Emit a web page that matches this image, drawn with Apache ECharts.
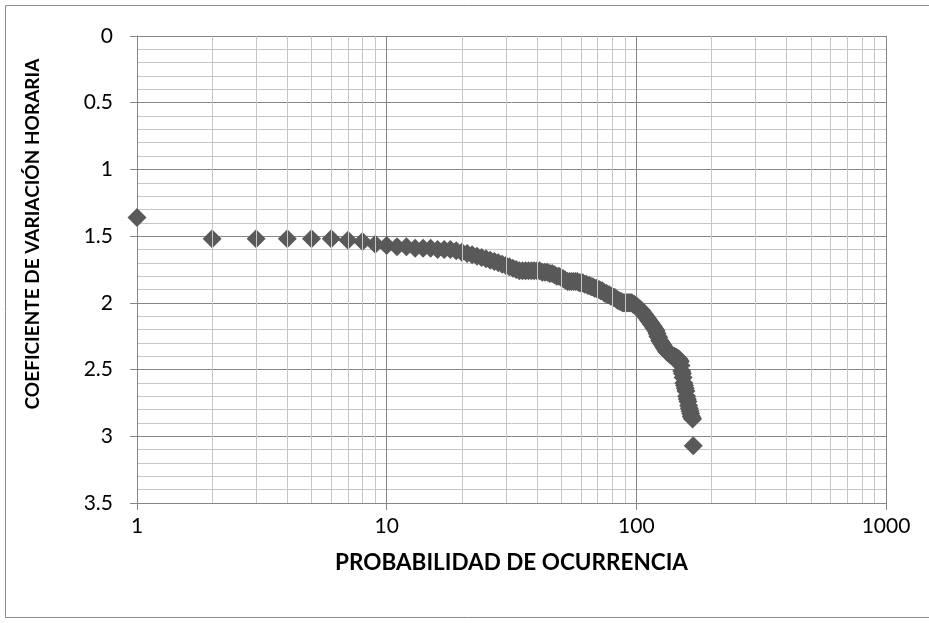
<!DOCTYPE html>
<html>
<head>
<meta charset="utf-8">
<script src="https://cdn.jsdelivr.net/npm/echarts@6/dist/echarts.min.js"></script>
<style>
  html, body { margin: 0; padding: 0; background: #fff; }
  #chart { width: 929px; height: 623px; }
</style>
</head>
<body>
<div id="chart"></div>
<script>
// rank (probabilidad de ocurrencia)
var ranks = [
  1, 2, 3, 4, 5, 6, 7, 8, 9, 10, 11, 12, 13, 14, 15, 16, 17, 18, 19, 20,
  21, 22, 23, 24, 25, 26, 27, 28, 29, 30, 31, 32, 33, 34, 35, 36, 37, 38, 39, 40,
  41, 42, 43, 44, 45, 46, 47, 48, 49, 50, 51, 52, 53, 54, 55, 56, 57, 58, 59, 60,
  61, 62, 63, 64, 65, 66, 67, 68, 69, 70, 71, 72, 73, 74, 75, 76, 77, 78, 79, 80,
  81, 82, 83, 84, 85, 86, 87, 88, 89, 90, 91, 92, 93, 94, 95, 96, 97, 98, 99, 100,
  101, 102, 103, 104, 105, 106, 107, 108, 109, 110, 111, 112, 113, 114, 115, 116, 117, 118, 119, 120,
  121, 122, 123, 124, 125, 126, 127, 128, 129, 130, 131, 132, 133, 134, 135, 136, 137, 138, 139, 140,
  141, 142, 143, 144, 145, 146, 147, 148, 149, 150, 151, 152, 153, 154, 155, 156, 157, 158, 159, 160,
  161, 162, 163, 164, 165, 166, 167, 168, 169
]
// coeficiente de variación horaria
var coef = [
  1.36, 1.52, 1.52, 1.52, 1.52, 1.52, 1.53, 1.54, 1.56, 1.57,
  1.58, 1.58, 1.59, 1.59, 1.59, 1.60, 1.60, 1.60, 1.61, 1.62,
  1.63, 1.64, 1.65, 1.66, 1.67, 1.68, 1.69, 1.70, 1.71, 1.72,
  1.73, 1.74, 1.75, 1.76, 1.76, 1.76, 1.76, 1.76, 1.76, 1.76,
  1.76, 1.77, 1.77, 1.77, 1.78, 1.78, 1.79, 1.80, 1.80, 1.81,
  1.82, 1.83, 1.84, 1.84, 1.84, 1.84, 1.84, 1.84, 1.85, 1.85,
  1.85, 1.86, 1.86, 1.87, 1.87, 1.88, 1.88, 1.89, 1.89, 1.90,
  1.90, 1.91, 1.91, 1.92, 1.93, 1.93, 1.94, 1.94, 1.95, 1.95,
  1.96, 1.96, 1.97, 1.98, 1.98, 1.99, 1.99, 2.00, 2.00, 2.00,
  2.00, 2.00, 2.00, 2.00, 2.00, 2.00, 2.01, 2.01, 2.02, 2.03,
  2.03, 2.04, 2.05, 2.05, 2.06, 2.07, 2.08, 2.09, 2.10, 2.11,
  2.12, 2.13, 2.14, 2.15, 2.16, 2.17, 2.18, 2.19, 2.20, 2.21,
  2.23, 2.25, 2.26, 2.28, 2.29, 2.30, 2.31, 2.32, 2.33, 2.34,
  2.35, 2.36, 2.37, 2.37, 2.38, 2.38, 2.39, 2.39, 2.40, 2.40,
  2.40, 2.40, 2.41, 2.41, 2.41, 2.42, 2.42, 2.42, 2.43, 2.44,
  2.47, 2.51, 2.53, 2.56, 2.60, 2.62, 2.64, 2.66, 2.70, 2.72,
  2.74, 2.77, 2.79, 2.81, 2.83, 2.85, 2.86, 2.87, 3.07
]
// minor vertical grid lines of the log axis
var xMinor = [2, 3, 4, 5, 6, 7, 8, 9, 20, 30, 40, 50, 60, 70, 80, 90, 200, 300, 400, 500, 600, 700, 800, 900]

var chart = echarts.init(document.getElementById('chart'))
var font = 'Lato, "Open Sans", sans-serif'

chart.setOption({
  animation: false,
  backgroundColor: '#fff',
  graphic: [
    {
      type: 'rect',
      shape: { x: 5.5, y: 5.5, width: 940, height: 612 },
      style: { fill: 'none', stroke: '#8c8c8c', lineWidth: 1 },
      silent: true
    },
    {
      type: 'text',
      x: 33,
      y: 234,
      rotation: Math.PI / 2,
      style: {
        text: 'COEFICIENTE DE VARIACIÓN HORARIA',
        font: 'bold 19px ' + font,
        fill: '#000',
        align: 'center',
        verticalAlign: 'middle'
      }
    }
  ],
  grid: { left: 137, right: 43, top: 36, bottom: 120 },
  xAxis: {
    type: 'log',
    logBase: 10,
    min: 1,
    max: 1000,
    name: 'PROBABILIDAD DE OCURRENCIA',
    nameLocation: 'middle',
    nameGap: 48,
    nameTextStyle: { fontFamily: font, fontWeight: 'bold', fontSize: 22.5, color: '#000' },
    axisLine: { onZero: false, lineStyle: { color: '#868686' } },
    axisTick: { show: true, length: 7, lineStyle: { color: '#868686' } },
    axisLabel: {
      fontFamily: font, fontSize: 21, color: '#000', margin: 13,
      formatter: function (v) { return String(v) }
    },
    splitLine: { show: true, lineStyle: { color: '#868686' } },
    minorTick: { show: false },
    minorSplitLine: { show: false }
  },
  yAxis: {
    type: 'value',
    inverse: true,
    min: 0,
    max: 3.5,
    interval: 0.5,
    axisLine: { show: true, onZero: false, lineStyle: { color: '#868686' } },
    axisTick: { show: true, length: 7, lineStyle: { color: '#868686' } },
    axisLabel: { fontFamily: font, fontSize: 21, color: '#000', margin: 24 },
    splitLine: { show: true, lineStyle: { color: '#868686' } },
    minorTick: { show: false, splitNumber: 5 },
    minorSplitLine: { show: true, lineStyle: { color: '#c6c6c6' } }
  },
  series: [
    {
      type: 'scatter',
      name: 'grid',
      data: [],
      silent: true,
      z: 1,
      markLine: {
        silent: true,
        symbol: 'none',
        label: { show: false },
        lineStyle: { color: '#c6c6c6', type: 'solid', width: 1 },
        data: xMinor.map(function (v) { return { xAxis: v } })
      }
    },
    {
      type: 'scatter',
      symbol: 'diamond',
      symbolSize: 19,
      z: 3,
      itemStyle: { color: '#595959', opacity: 1 },
      data: ranks.map(function (r, i) { return [r, coef[i]] })
    }
  ]
})
</script>
</body>
</html>
